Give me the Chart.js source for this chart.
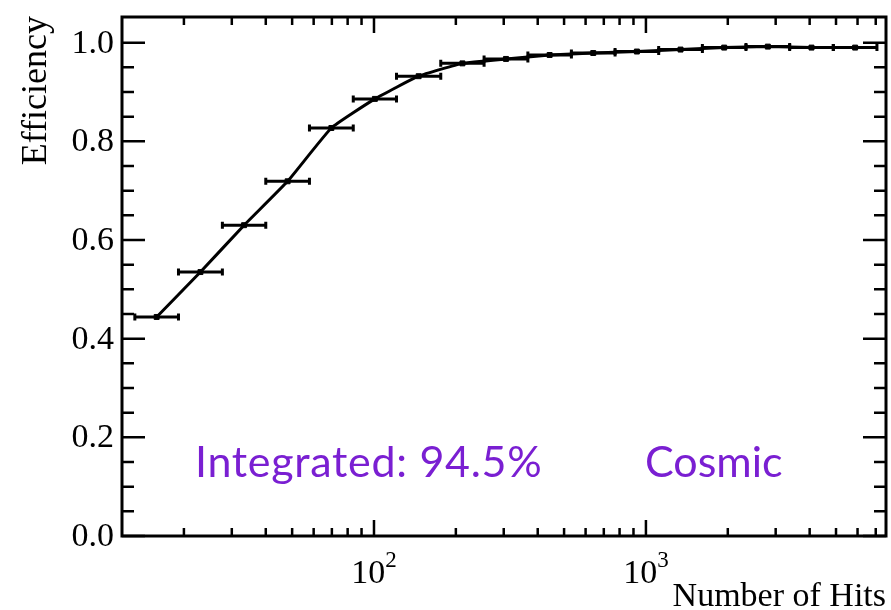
<!DOCTYPE html>
<html lang="en">
<head>
  <meta charset="UTF-8" />
  <title>Efficiency vs Number of Hits</title>
  <script src="https://cdn.jsdelivr.net/npm/chart.js"></script>
  <style>
    body {
      margin: 0;
      padding: 0;
      background: #ffffff;
    }
    canvas {
      display: block;
    }
  </style>
</head>
<body>
  <canvas id="effChart" width="891" height="610"></canvas>
  <script>
    // bin edges in number of hits (log binning), one efficiency per bin
    const binEdges = [13.2, 19.1, 27.7, 40.0, 57.9, 83.9, 121, 176, 254, 368, 532, 770, 1114, 1613, 2333, 3377, 4887, 7071];
    const efficiency = [0.444, 0.535, 0.630, 0.719, 0.827, 0.886, 0.932, 0.958, 0.967, 0.975, 0.979, 0.982, 0.986, 0.990, 0.992, 0.990, 0.990];

    const yTickValues = [0, 0.2, 0.4, 0.6, 0.8, 1.0];
    const yTickLabels = ['0.0', '0.2', '0.4', '0.6', '0.8', '1.0'];
    const xTickValues = [100, 1000];
    const xTickExponents = ['2', '3'];

    const xTitle = 'Number of Hits';
    const yTitle = 'Efficiency';
    const labelLeft = 'Integrated: 94.5%';
    const labelRight = 'Cosmic';

    const points = efficiency.map((e, i) => ({
      x: Math.sqrt(binEdges[i] * binEdges[i + 1]),
      y: e
    }));

    const serif = '"Liberation Serif", "DejaVu Serif", serif';
    const purple = '#7a1fd2';

    // minor ticks: 2..9 per decade on x, every 0.05 on y
    const xMinor = [];
    [10, 100, 1000].forEach(d => {
      for (let k = 2; k <= 9; k++) xMinor.push(k * d);
    });
    const yMinor = [];
    for (let k = 0; k <= 21; k++) yMinor.push(k * 0.05);

    const rootFrame = {
      id: 'rootFrame',
      beforeDatasetsDraw(chart) {
        const { ctx, scales: { x, y } } = chart;
        ctx.save();
        ctx.strokeStyle = '#000';
        ctx.lineWidth = 3;
        for (let i = 0; i < efficiency.length; i++) {
          const xl = x.getPixelForValue(binEdges[i]);
          const xr = x.getPixelForValue(binEdges[i + 1]);
          const py = y.getPixelForValue(efficiency[i]);
          ctx.beginPath();
          ctx.moveTo(xl, py); ctx.lineTo(xr, py);
          ctx.moveTo(xl, py - 3.5); ctx.lineTo(xl, py + 3.5);
          ctx.moveTo(xr, py - 3.5); ctx.lineTo(xr, py + 3.5);
          ctx.stroke();
        }
        ctx.restore();
      },
      afterDraw(chart) {
        const { ctx, chartArea: a, scales: { x, y } } = chart;
        ctx.save();
        ctx.strokeStyle = '#000';
        ctx.lineWidth = 3;
        ctx.strokeRect(a.left, a.top, a.right - a.left, a.bottom - a.top);

        ctx.lineWidth = 2.5;
        ctx.beginPath();
        yMinor.forEach(v => {
          const py = y.getPixelForValue(v);
          if (py < a.top + 1) return;
          const major = yTickValues.some(t => Math.abs(t - v) < 1e-6);
          const len = major ? 23 : 12;
          ctx.moveTo(a.left, py); ctx.lineTo(a.left + len, py);
          ctx.moveTo(a.right, py); ctx.lineTo(a.right - len, py);
        });
        xMinor.concat(xTickValues).forEach(v => {
          const px = x.getPixelForValue(v);
          if (px < a.left || px > a.right) return;
          const len = xTickValues.includes(v) ? 16 : 8;
          ctx.moveTo(px, a.bottom); ctx.lineTo(px, a.bottom - len);
          ctx.moveTo(px, a.top); ctx.lineTo(px, a.top + len);
        });
        ctx.stroke();

        // y tick labels
        ctx.fillStyle = '#000';
        ctx.font = '34px ' + serif;
        ctx.textAlign = 'right';
        ctx.textBaseline = 'middle';
        yTickValues.forEach((v, i) => {
          ctx.fillText(yTickLabels[i], a.left - 8, y.getPixelForValue(v) + 1);
        });

        // x tick labels 10^n
        ctx.textBaseline = 'alphabetic';
        ctx.textAlign = 'left';
        xTickValues.forEach((v, i) => {
          const px = x.getPixelForValue(v);
          ctx.font = '34px ' + serif;
          const wb = ctx.measureText('10').width;
          ctx.font = '23px ' + serif;
          const we = ctx.measureText(xTickExponents[i]).width;
          const x0 = px - (wb + we) / 2;
          ctx.font = '34px ' + serif;
          ctx.fillText('10', x0, a.bottom + 47);
          ctx.font = '23px ' + serif;
          ctx.fillText(xTickExponents[i], x0 + wb, a.bottom + 31);
        });

        // axis titles
        ctx.font = '34px ' + serif;
        ctx.textAlign = 'right';
        ctx.fillText(xTitle, a.right, 606);
        ctx.save();
        ctx.translate(46, a.top - 1);
        ctx.rotate(-Math.PI / 2);
        ctx.font = '36px ' + serif;
        ctx.fillText(yTitle, 0, 0);
        ctx.restore();

        // annotations
        ctx.fillStyle = purple;
        ctx.font = '43px Lato, "Open Sans", sans-serif';
        ctx.textAlign = 'left';
        ctx.letterSpacing = '0.7px';
        ctx.fillText(labelLeft, a.left + 73, 477);
        ctx.letterSpacing = '0px';
        ctx.fillText(labelRight, a.left + 523, 477);
        ctx.restore();
      }
    };

    new Chart(document.getElementById('effChart').getContext('2d'), {
      type: 'line',
      data: {
        datasets: [{
          data: points,
          borderColor: '#000',
          borderWidth: 3,
          tension: 0.12,
          pointStyle: 'rect',
          pointRadius: 3.5,
          pointBorderWidth: 1,
          pointBackgroundColor: '#000',
          pointBorderColor: '#000'
        }]
      },
      options: {
        responsive: false,
        animation: false,
        devicePixelRatio: 1,
        layout: { padding: { left: 122, top: 17, right: 2, bottom: 74 } },
        scales: {
          x: { type: 'logarithmic', min: 11.84, max: 7635, display: false },
          y: { type: 'linear', min: 0, max: 1.052, display: false }
        },
        plugins: {
          legend: { display: false },
          tooltip: { enabled: false }
        }
      },
      plugins: [rootFrame]
    });
  </script>
</body>
</html>
